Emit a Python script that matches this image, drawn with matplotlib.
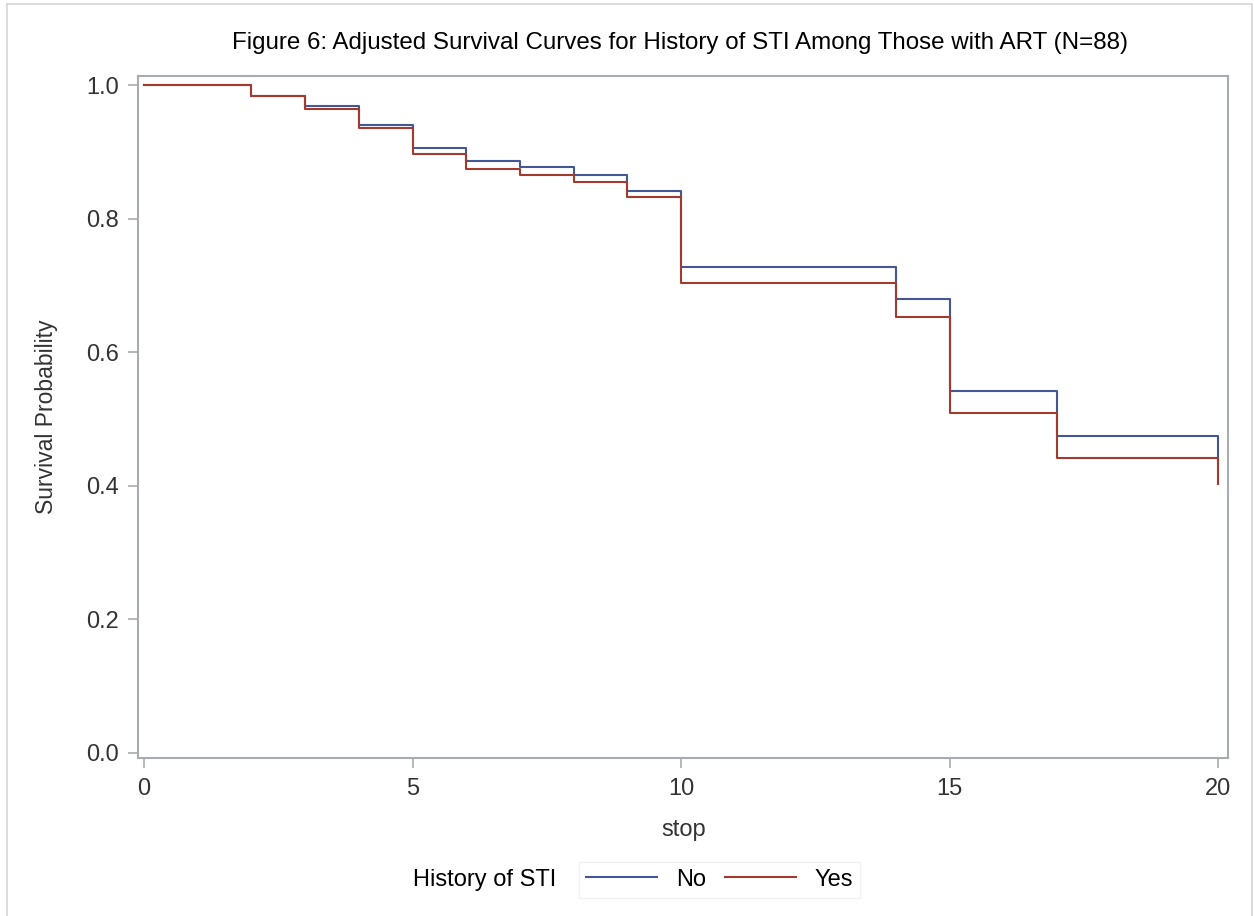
import matplotlib
matplotlib.use("Agg")
import matplotlib.pyplot as plt
from matplotlib.lines import Line2D

plt.rcParams['font.family'] = ['Liberation Sans', 'DejaVu Sans']

# adjusted survival estimates, step after each event time
times = [0, 2, 3, 4, 5, 6, 7, 8, 9, 10, 14, 15, 17, 20]
surv_no = [1.0, 0.983, 0.9685, 0.940, 0.905, 0.886, 0.8766, 0.865, 0.8416,
           0.728, 0.679, 0.541, 0.475, 0.438]
surv_yes = [1.0, 0.983, 0.9636, 0.935, 0.897, 0.8746, 0.8656, 0.8546, 0.8316,
            0.704, 0.653, 0.509, 0.441, 0.403]
group_labels = ["No", "Yes"]

x_ticks = [0, 5, 10, 15, 20]
y_ticks = [0.0, 0.2, 0.4, 0.6, 0.8, 1.0]

blue = "#445694"
red = "#A23A2E"
frame_gray = "#a8acb0"

fig = plt.figure(figsize=(12.54, 9.16), dpi=100)
ax = fig.add_axes([0.1103, 0.1722, 0.8692, 0.7448])

ax.step(times, surv_no, where="post", color=blue, lw=1.5)
ax.step(times, surv_yes, where="post", color=red, lw=1.5)

ax.set_xlim(-0.106, 20.186)
ax.set_ylim(-0.0084, 1.0135)
ax.set_xticks(x_ticks)
ax.set_yticks(y_ticks)
ax.set_yticklabels([f"{v:.1f}" for v in y_ticks])

for s in ax.spines.values():
    s.set_color(frame_gray)
    s.set_linewidth(1.5)
ax.tick_params(axis="both", direction="out", length=7, width=1.2,
               color=frame_gray, labelsize=17, labelcolor="#333333", pad=7)

ax.set_xlabel("stop", fontsize=17, color="#333333", labelpad=14)
ax.set_ylabel("Survival Probability", fontsize=16.5, color="#333333", labelpad=20)

fig.text(0.5423, 0.953, "Figure 6: Adjusted Survival Curves for History of STI Among Those with ART (N=88)",
         ha="center", va="center", fontsize=17.4, color="black")

# legend
handles = [Line2D([], [], color=blue, lw=1.5), Line2D([], [], color=red, lw=1.5)]
leg = fig.legend(handles, group_labels, ncol=2, loc="center left",
                 bbox_to_anchor=(0.4525, 0.0396), frameon=True, fontsize=17,
                 handlelength=3.0, columnspacing=0.8, handletextpad=0.8,
                 borderpad=0.3, fancybox=False)
leg.get_frame().set_edgecolor("#eeeeee")
leg.get_frame().set_linewidth(1.0)
fig.text(0.3295, 0.0396, "History of STI", ha="left", va="center", fontsize=17)

# outer border of the graph area
for xs, ys in [([0.0056, 0.0056], [0.0, 0.9956]),
               ([0.0056, 0.9984], [0.9956, 0.9956]),
               ([0.9984, 0.9984], [0.0, 0.9956])]:
    fig.add_artist(Line2D(xs, ys, color="#d6d6d6", lw=1.2, transform=fig.transFigure))

fig.savefig("out.png", dpi=100)
